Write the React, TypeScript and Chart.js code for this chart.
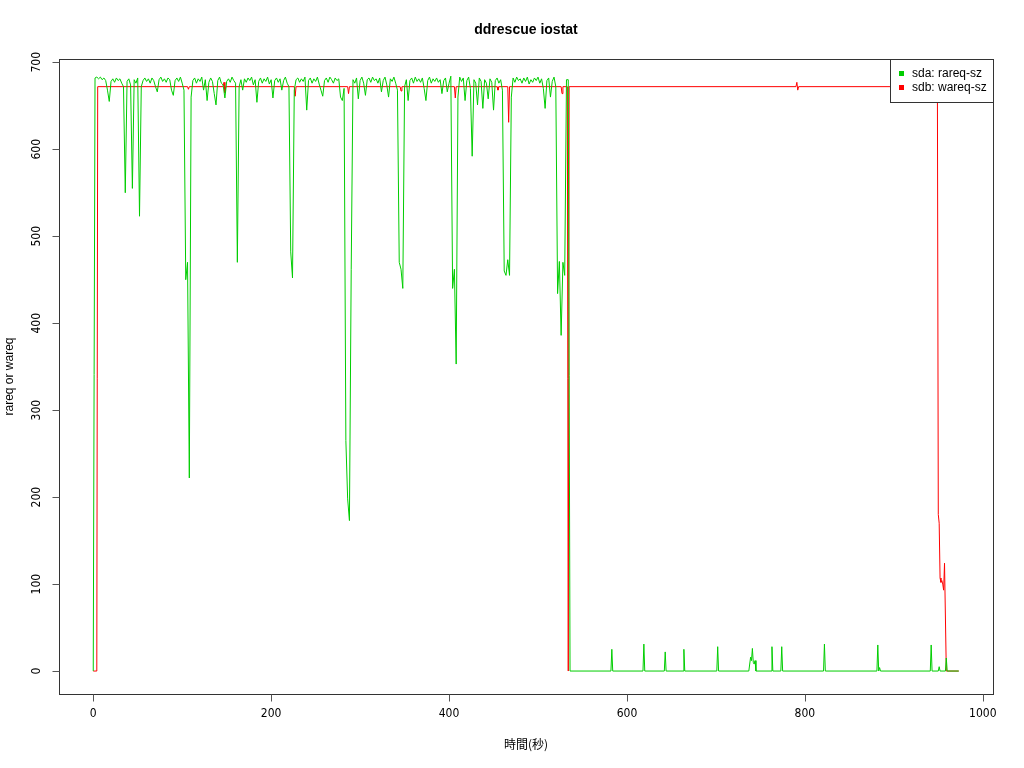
import React, { useEffect, useRef } from "react";
import { Chart, registerables } from "chart.js";

Chart.register(...registerables);

const TITLE = "ddrescue iostat";
const X_LABEL = "時間(秒)";
const Y_LABEL = "rareq or wareq";
const X_TICKS = [0, 200, 400, 600, 800, 1000];
const Y_TICKS = [0, 100, 200, 300, 400, 500, 600, 700];
const SERIES_NAMES = ["sda: rareq-sz", "sdb: wareq-sz"];
const SERIES_COLORS = ["#00cd00", "#ff0000"];

// sda rareq-sz, sampled every 2 s from t = 0 to t = 534
const SDA_STEP = 2;
const sdaHeadValues = [
  0, 682, 683, 681, 683, 680, 682, 679, 668, 655,
  678, 681, 677, 682, 679, 681, 676, 672, 550, 678,
  681, 674, 555, 680, 676, 682, 523, 672, 679, 682,
  678, 681, 676, 682, 679, 672, 666, 680, 683, 678,
  681, 677, 682, 680, 668, 662, 679, 682, 678, 683,
  676, 668, 450, 470, 222, 660, 679, 682, 676, 681,
  678, 683, 668, 680, 656, 677, 682, 678, 664, 651,
  679, 683, 676, 674, 659, 678, 681, 677, 683, 679,
  676, 470, 672, 680, 668, 681, 677, 682, 679, 683,
  674, 680, 654, 678, 682, 676, 681, 678, 683, 675,
  680, 659, 679, 682, 677, 681, 668, 679, 683, 676,
  672, 482, 452, 668, 680, 682, 677, 681, 678, 683,
  645, 679, 682, 676, 681, 678, 683, 675, 668, 661,
  679, 682, 677, 683, 680, 676, 682, 679, 681, 660,
  656, 670, 265, 198, 173, 462, 680, 676, 682, 658,
  679, 683, 676, 662, 680, 682, 677, 683, 679, 681,
  676, 682, 666, 679, 683, 674, 660, 681, 678, 683,
  676, 668, 470, 462, 440, 672, 680, 656, 679, 682,
  676, 683, 678, 681, 677, 682, 670, 656, 679, 683,
  676, 681, 678, 682, 677, 680, 664, 679, 682, 666,
  676, 684, 440, 462, 353, 660, 683, 678, 682, 656,
  679, 683, 670, 592, 680, 676, 651, 682, 678, 647,
  680, 676, 658, 681, 677, 645, 679, 682, 676, 680,
  668, 460, 455, 473, 455, 660, 682, 677, 683, 679,
  681, 676, 682, 678, 683, 675, 680, 677, 682, 679,
  683, 676, 681, 670, 647, 679, 682, 660, 678, 683,
  672, 434, 471, 386, 470, 455, 680, 680,
];

// sda after the read finished: mostly zero with short spikes
const sdaTailTimes = [
  536, 582, 583, 584, 618, 619, 620, 642, 643, 644, 663, 664, 665,
  701, 702, 703, 737, 739, 740, 741, 742, 743, 744, 745, 762, 763, 764,
  773, 774, 775, 821, 822, 823, 881, 882, 883, 884, 885, 941, 942, 943,
  950, 951, 952, 958, 959, 960, 973,
];
const sdaTailValues = [
  0, 0, 25, 0, 0, 31, 0, 0, 22, 0, 0, 25, 0,
  0, 28, 0, 0, 16, 12, 26, 10, 8, 12, 0, 0, 28, 0,
  0, 28, 0, 0, 31, 0, 0, 30, 0, 4, 0, 0, 30, 0,
  0, 5, 0, 0, 15, 0, 0,
];

// sdb wareq-sz
const sdbTimes = [
  0, 4, 5, 106, 107, 108, 146, 147, 148, 149, 226, 227, 228,
  286, 287, 288, 345, 346, 347, 406, 407, 408, 454, 455, 456,
  466, 467, 468, 526, 527, 528, 533, 534, 535, 790, 791, 792, 793,
  949, 950, 951, 952, 953, 954, 955, 956, 957, 959, 973,
];
const sdbValues = [
  0, 0, 672, 672, 669, 672, 672, 677, 665, 672, 672, 661, 672,
  672, 664, 672, 672, 667, 672, 672, 659, 672, 672, 668, 672,
  672, 631, 672, 672, 664, 672, 672, 0, 672, 672, 677, 668, 672,
  672, 180, 170, 107, 102, 104, 100, 93, 124, 0, 0,
];

const NARROW = "'Liberation Sans Narrow', 'DejaVu Sans Condensed', 'Roboto Condensed', sans-serif";
const SANS = "'Liberation Sans', Arial, sans-serif";

const rDecorations = {
  id: "rDecorations",
  afterDatasetsDraw(chart: any) {
    const { ctx, chartArea: a, scales } = chart;
    const xs = scales.x;
    const ys = scales.y;
    ctx.save();

    // frame
    ctx.strokeStyle = "#333";
    ctx.lineWidth = 1;
    ctx.strokeRect(Math.round(a.left) + 0.5, Math.round(a.top) + 0.5, Math.round(a.right - a.left), Math.round(a.bottom - a.top));

    // tick marks
    ctx.strokeStyle = "#555";
    ctx.beginPath();
    X_TICKS.forEach((t) => {
      const px = Math.round(xs.getPixelForValue(t)) + 0.5;
      ctx.moveTo(px, Math.round(a.bottom) + 0.5);
      ctx.lineTo(px, Math.round(a.bottom) + 7.5);
    });
    Y_TICKS.forEach((t) => {
      const py = Math.round(ys.getPixelForValue(t)) + 0.5;
      ctx.moveTo(Math.round(a.left) + 0.5, py);
      ctx.lineTo(Math.round(a.left) - 6.5, py);
    });
    ctx.stroke();

    // tick labels
    ctx.fillStyle = "#000";
    ctx.textAlign = "center";
    ctx.textBaseline = "middle";
    ctx.font = "12px " + NARROW;
    X_TICKS.forEach((t) => {
      ctx.fillText(String(t), xs.getPixelForValue(t), a.bottom + 20);
    });
    Y_TICKS.forEach((t) => {
      ctx.save();
      ctx.translate(a.left - 22, ys.getPixelForValue(t));
      ctx.rotate(-Math.PI / 2);
      ctx.fillText(String(t), 0, 0);
      ctx.restore();
    });

    // title
    ctx.font = "bold 14px " + SANS;
    ctx.fillText(TITLE, (a.left + a.right) / 2, 30);

    // axis labels
    ctx.font = "12px 'Noto Sans CJK JP', sans-serif";
    ctx.fillText(X_LABEL, (a.left + a.right) / 2, 744);
    ctx.font = "12px " + SANS;
    ctx.save();
    ctx.translate(10, (a.top + a.bottom) / 2);
    ctx.rotate(-Math.PI / 2);
    ctx.fillText(Y_LABEL, 0, 0);
    ctx.restore();

    // legend
    const lx = 890.5;
    const ly = Math.round(a.top) + 0.5;
    const lw = Math.round(a.right) - 890;
    const lh = 43;
    ctx.fillStyle = "#fff";
    ctx.fillRect(lx, ly, lw, lh);
    ctx.strokeStyle = "#333";
    ctx.strokeRect(lx, ly, lw, lh);
    ctx.textAlign = "left";
    ctx.font = "12px " + SANS;
    SERIES_NAMES.forEach((name, i) => {
      const cy = 73.5 + i * 14;
      ctx.fillStyle = SERIES_COLORS[i];
      ctx.fillRect(899, cy - 2.5, 5, 5);
      ctx.fillStyle = "#000";
      ctx.fillText(name, 912, cy);
    });

    ctx.restore();
  },
};

export default function App() {
  const ref = useRef<HTMLCanvasElement>(null);

  useEffect(() => {
    const sdaData = [
      ...sdaHeadValues.map((v, i) => ({ x: i * SDA_STEP, y: v })),
      ...sdaTailTimes.map((t, i) => ({ x: t, y: sdaTailValues[i] })),
    ];
    const sdbData = sdbTimes.map((t, i) => ({ x: t, y: sdbValues[i] }));

    const chart = new Chart(ref.current as HTMLCanvasElement, {
      type: "line",
      data: {
        datasets: [
          {
            label: SERIES_NAMES[0],
            data: sdaData,
            borderColor: SERIES_COLORS[0],
            backgroundColor: SERIES_COLORS[0],
            borderWidth: 1,
            pointRadius: 0,
            tension: 0,
            fill: false,
          },
          {
            label: SERIES_NAMES[1],
            data: sdbData,
            borderColor: SERIES_COLORS[1],
            backgroundColor: SERIES_COLORS[1],
            borderWidth: 1,
            pointRadius: 0,
            tension: 0,
            fill: false,
          },
        ],
      },
      options: {
        responsive: false,
        animation: false,
        events: [],
        layout: { padding: { left: 59, top: 59, right: 31, bottom: 74 } },
        scales: {
          x: { type: "linear", min: -38.5, max: 1011.5, display: false },
          y: { type: "linear", min: -26.4, max: 703.8, display: false },
        },
        plugins: {
          legend: { display: false },
          title: { display: false },
          tooltip: { enabled: false },
        },
      },
      plugins: [rDecorations],
    });
    return () => chart.destroy();
  }, []);

  return (
    <div style={{ position: "absolute", left: 0, top: 0, width: 1024, height: 768, background: "#fff" }}>
      <canvas ref={ref} width={1024} height={768} style={{ width: 1024, height: 768, display: "block" }} />
    </div>
  );
}
